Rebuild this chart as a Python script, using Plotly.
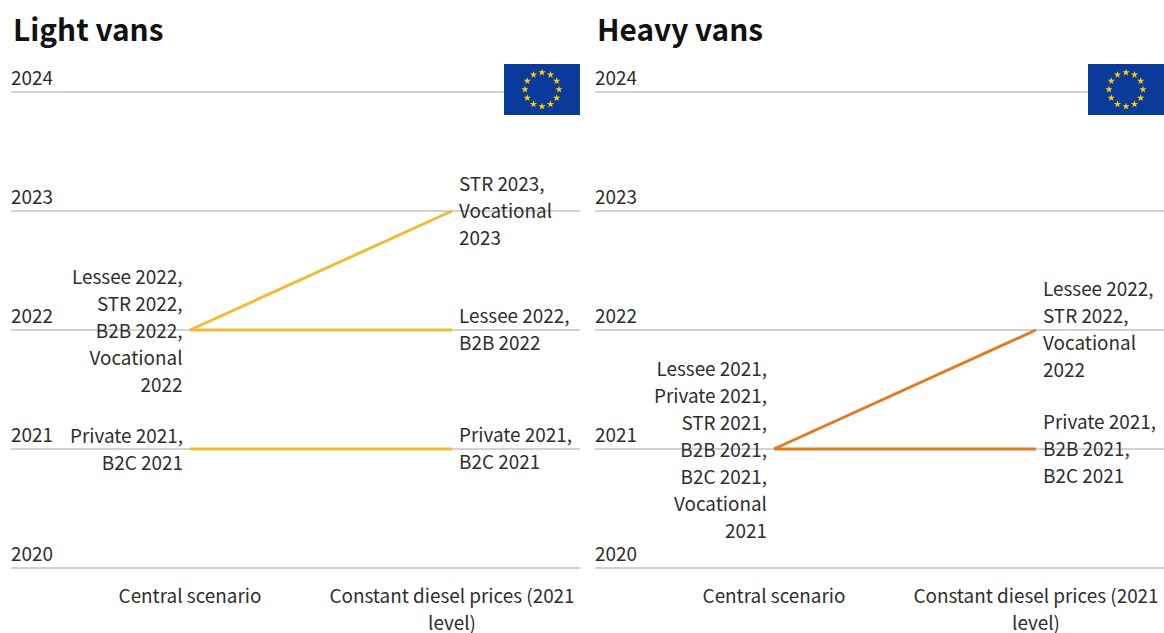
import math
import plotly.graph_objects as go

W, H = 1164, 633
FONT = "Noto Sans CJK SC"
TEXT = "#2e2e2e"
LINE_SIZE = 20.8   # sets the line spacing
GLYPH_SIZE = 18.9  # sets the letter size
scenarios = ["Central scenario", "Constant diesel prices (2021 level)"]
scenario_ticks = ["Central scenario", "Constant diesel prices (2021<br>level)"]
years = [2020, 2021, 2022, 2023, 2024]

light_title = "Light vans"
light_color = "#f2bb36"
light_lines = [[2022, 2023], [2022, 2022], [2021, 2021]]
light_central = [(2022, "Lessee 2022,<br>STR 2022,<br>B2B 2022,<br>Vocational<br>2022"),
                 (2021, "Private 2021,<br>B2C 2021")]
light_constant = [(2023, "STR 2023,<br>Vocational<br>2023"),
                  (2022, "Lessee 2022,<br>B2B 2022"),
                  (2021, "Private 2021,<br>B2C 2021")]

heavy_title = "Heavy vans"
heavy_color = "#e07b20"
heavy_lines = [[2021, 2022], [2021, 2021]]
heavy_central = [(2021, "Lessee 2021,<br>Private 2021,<br>STR 2021,<br>B2B 2021,<br>B2C 2021,<br>Vocational<br>2021")]
heavy_constant = [(2022, "Lessee 2022,<br>STR 2022,<br>Vocational<br>2022"),
                  (2021, "Private 2021,<br>B2B 2021,<br>B2C 2021")]

panels = [
    dict(x0=11, x1=580, suffix="", title=light_title, color=light_color, lines=light_lines,
         central=light_central, constant=light_constant),
    dict(x0=595, x1=1164, suffix="2", title=heavy_title, color=heavy_color, lines=heavy_lines,
         central=heavy_central, constant=heavy_constant),
]
PX_PER_YEAR = 119
PAD_TOP, PAD_BOTTOM = 40, 2
PLOT_TOP, PLOT_BOTTOM = 92 - PAD_TOP, 568 + PAD_BOTTOM
FLAG_W, FLAG_TOP, FLAG_BOTTOM = 76, 64, 115
xrange_ = [-179 / 262, 1 + (569 - 441) / 262]


def styled(text):
    return "<br>".join(f'<span style="font-size:{GLYPH_SIZE}px">{t}</span>' for t in text.split("<br>"))


fig = go.Figure()
annotations, shapes = [], []
layout = {}

for i, p in enumerate(panels):
    s = p["suffix"]
    xname, yname = f"x{s}", f"y{s}"
    for ys in p["lines"]:
        fig.add_trace(go.Scatter(x=scenarios, y=ys, mode="lines", xaxis=xname, yaxis=yname,
                                 line=dict(color=p["color"], width=3), hoverinfo="skip",
                                 showlegend=False, cliponaxis=False))
    layout[f"xaxis{s}"] = dict(
        domain=[p["x0"] / W, p["x1"] / W], anchor=yname, type="category", automargin=False,
        categoryorder="array", categoryarray=scenarios, range=xrange_,
        tickmode="array", tickvals=scenarios, ticktext=[styled(t) for t in scenario_ticks],
        showgrid=False, zeroline=False, showline=False, ticks="", ticklabelstandoff=11,
        tickangle=0, tickfont=dict(family=FONT, size=LINE_SIZE, color=TEXT))
    layout[f"yaxis{s}"] = dict(
        domain=[(H - PLOT_BOTTOM) / H, (H - PLOT_TOP) / H], anchor=xname, automargin=False,
        range=[2020 - PAD_BOTTOM / PX_PER_YEAR, 2024 + PAD_TOP / PX_PER_YEAR],
        tickmode="array", tickvals=years, ticktext=[str(y) for y in years],
        showgrid=True, gridcolor="#d2d2d2", gridwidth=1.5, zeroline=False, showline=False,
        ticks="", ticklabelposition="inside", ticklabelshift=-14, ticklabelstandoff=-3,
        tickfont=dict(family=FONT, size=GLYPH_SIZE, color=TEXT))
    for year, label in p["central"]:
        annotations.append(dict(x=0, y=year, xref=xname, yref=yname, text=styled(label), showarrow=False,
                                xanchor="right", yanchor="middle", align="right", xshift=-5, yshift=1,
                                font=dict(family=FONT, size=LINE_SIZE, color=TEXT)))
    for year, label in p["constant"]:
        annotations.append(dict(x=1, y=year, xref=xname, yref=yname, text=styled(label), showarrow=False,
                                xanchor="left", yanchor="middle", align="left", xshift=5, yshift=2,
                                font=dict(family=FONT, size=LINE_SIZE, color=TEXT)))
    annotations.append(dict(x=p["x0"] / W, y=1 - 28 / H, xref="paper", yref="paper",
                            text=f"<b>{p['title']}</b>", showarrow=False, xanchor="left",
                            yanchor="middle", font=dict(family=FONT, size=29.8, color="#111111")))
    # EU flag
    n = 3 + i
    fx, fy = f"x{n}", f"y{n}"
    shapes.append(dict(type="rect", xref=fx, yref=fy, layer="between",
                       x0=-38, x1=38, y0=-25.5, y1=25.5,
                       fillcolor="#0a3a9a", line_width=0))
    angles = [math.radians(30 * k) for k in range(12)]
    fig.add_trace(go.Scatter(x=[17 * math.sin(a) for a in angles], y=[17 * math.cos(a) for a in angles],
                             mode="markers", xaxis=fx, yaxis=fy, hoverinfo="skip", showlegend=False,
                             marker=dict(symbol="star", size=5.5, color="#ffcc00", line_width=0)))
    layout[f"xaxis{n}"] = dict(domain=[(p["x1"] - FLAG_W) / W, p["x1"] / W], range=[-38, 38],
                               anchor=fy, visible=False, fixedrange=True)
    layout[f"yaxis{n}"] = dict(domain=[1 - FLAG_BOTTOM / H, 1 - FLAG_TOP / H], range=[-25.5, 25.5],
                               anchor=fx, visible=False, fixedrange=True)

fig.update_layout(width=W, height=H, margin=dict(l=0, r=0, t=0, b=0), autosize=False,
                  paper_bgcolor="white", plot_bgcolor="white", showlegend=False,
                  annotations=annotations, shapes=shapes, **layout)
fig.write_html("out.html", config=dict(displayModeBar=False),
               post_script="document.body.style.margin='0';document.documentElement.style.overflow='hidden';")
